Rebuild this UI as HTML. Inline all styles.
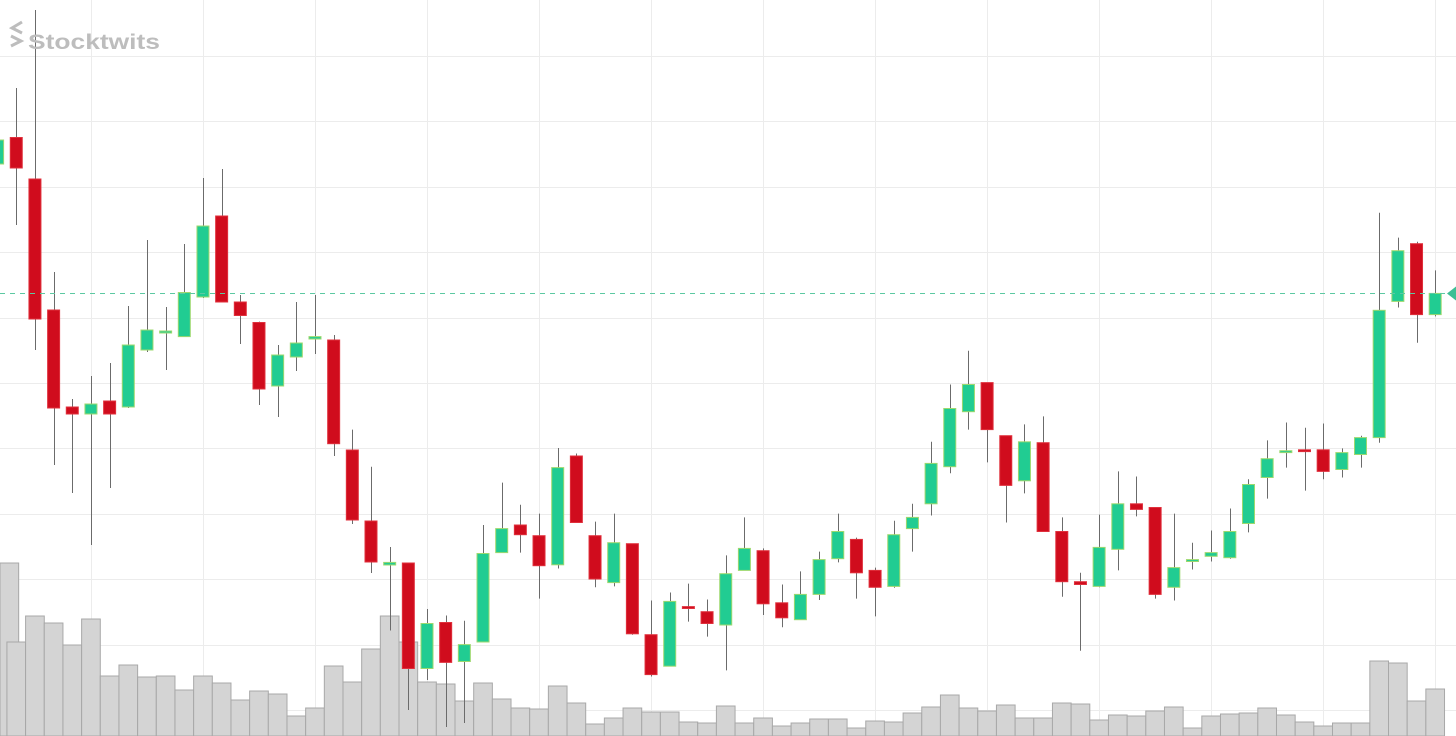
<!DOCTYPE html>
<html><head><meta charset="utf-8"><style>
html,body{margin:0;padding:0;background:#fff;overflow:hidden;width:1456px;height:736px}
svg{display:block;overflow:hidden}
</style></head><body>
<svg id="chart" width="1456" height="736" xmlns="http://www.w3.org/2000/svg">
<g id="grid"></g>
<g id="vol"></g>
<g id="candles"></g>
<g id="last"></g>
<g>
<polyline points="22,22 12,28 22,33" fill="none" stroke="#bdbdbd" stroke-width="3"/>
<polyline points="11,36 21,41 11,46" fill="none" stroke="#bdbdbd" stroke-width="3"/>
<text x="28" y="49" font-family="Liberation Sans, sans-serif" font-weight="bold" font-size="21" textLength="132" lengthAdjust="spacingAndGlyphs" fill="#bdbdbd">Stocktwits</text>
</g>
</svg>
<script>
const opens=[57.2,59.85,55.7,42.6,32.9,32.2,33.5,32.9,38.6,40.3,39.94,43.9,52.0,43.4,41.35,35.0,37.9,39.7,39.6,28.6,21.5,17.1,17.3,6.75,11.35,7.45,9.4,18.34,21.1,20.03,17.12,28.0,20.03,15.34,19.23,10.13,6.98,12.94,12.43,11.1,16.56,18.53,13.32,11.63,14.16,17.73,19.66,16.56,14.96,20.74,23.22,26.93,32.43,35.34,30.03,25.52,29.33,20.45,15.43,14.96,18.67,23.22,22.85,14.87,17.45,17.97,17.83,21.25,25.85,28.34,28.62,28.62,26.65,28.15,29.84,43.46,49.23,42.14];
const highs=[59.8,64.8,72.6,46.4,33.7,36.0,37.3,43.0,49.6,42.9,49.2,55.8,56.7,44.1,41.44,39.1,43.4,44.1,40.1,30.64,26.93,18.9,17.3,12.7,12.05,11.53,21.1,25.34,23.13,22.24,28.8,28.25,21.44,22.24,19.23,13.55,14.35,15.24,13.65,18.06,21.86,18.76,15.15,16.46,18.44,22.24,19.84,16.84,21.53,23.22,29.42,35.15,38.53,35.34,30.03,31.16,31.96,21.86,16.32,22.14,26.46,25.95,22.85,22.24,19.33,20.55,22.75,25.67,29.56,31.35,30.83,31.25,28.76,30.03,52.33,49.84,49.42,46.56];
const lows=[57.0,51.1,38.6,27.1,24.3,19.1,24.8,32.8,38.4,36.6,39.9,43.8,43.4,39.2,33.1,31.9,36.5,38.2,28.0,21.2,16.3,10.55,2.6,5.6,0.9,1.3,9.4,18.34,18.34,13.74,16.75,21.35,14.87,14.96,10.13,5.95,6.98,11.44,9.94,6.56,16.56,12.1,10.88,11.63,13.6,17.36,13.74,11.96,14.82,18.44,22.05,26.28,30.64,27.36,21.35,24.26,20.45,13.93,8.53,14.87,16.56,21.96,13.74,13.55,16.65,17.45,17.73,20.36,23.74,26.84,24.54,25.67,25.85,26.84,29.33,42.85,39.33,41.96];
const closes=[59.6,56.8,41.7,32.8,32.2,33.2,32.2,39.1,40.6,40.5,44.35,51.0,43.4,42.05,34.7,38.1,39.3,39.94,29.23,21.6,17.4,17.36,6.75,11.25,7.36,9.14,18.25,20.74,20.13,17.03,26.84,21.35,15.7,19.33,10.22,6.14,13.46,12.75,11.25,16.23,18.76,13.22,11.82,14.16,17.64,20.45,16.32,14.87,20.13,21.86,27.26,32.75,35.15,30.64,25.06,29.42,20.45,15.43,15.15,18.86,23.22,22.66,14.16,16.84,17.64,18.34,20.45,25.15,27.73,28.53,28.44,26.46,28.34,29.84,42.57,48.53,42.14,44.26];
const volumes=[173,94,120,113,91,117,60,71,59,60,46,60,53,36,45,42,20,28,70,54,87,120,94,54,52,35,53,37,28,27,50,33,12,18,28,24,24,14,13,30,13,18,10,13,17,17,8,15,14,23,29,41,28,25,31,18,18,33,32,16,21,20,25,29,8,20,22,23,28,21,14,10,13,13,75,73,35,47];
const lastPrice=44.26;

const NS='http://www.w3.org/2000/svg';
const W=1456,H=736;
const x0=-2.4, step=18.67;
function xScale(i){return x0+step*i;}
function yScale(p){return 736-p*10;}
function vScale(v){return 736-v;}
function mk(tag,attrs,parent){const e=document.createElementNS(NS,tag);for(const k in attrs)e.setAttribute(k,attrs[k]);parent.appendChild(e);return e;}

const grid=document.getElementById('grid');
for(let k=-1;k<12;k++){
  const y=Math.round(yScale(68.0-k*6.54))+0.5;
  if(y<0||y>H)continue;
  const l=mk('line',{x1:0,x2:W,y1:y,y2:y,stroke:'#ececec','stroke-width':1},grid);
  
  
}
for(let i=5;i<opens.length+1;i+=6){
  const x=Math.round(xScale(i))+0.5;
  const l=mk('line',{x1:x,x2:x,y1:0,y2:H,stroke:'#ececec','stroke-width':1},grid);
  
  
}

const vol=document.getElementById('vol');
volumes.forEach((v,i)=>{
  const y=vScale(v);
  const r=mk('rect',{x:Math.max(xScale(i)-step/2,0),y:y,width:step,height:H-y,fill:'#d4d4d4',stroke:'#a8a8a8','stroke-width':1},vol);
  
  
});

const cg=document.getElementById('candles');
opens.forEach((o,i)=>{
  const c=closes[i],x=xScale(i),up=c>=o;
  const g=mk('g',{},cg);
  
  
  const w=mk('line',{x1:Math.round(x)+0.5,x2:Math.round(x)+0.5,y1:yScale(highs[i]),y2:yScale(lows[i]),stroke:'#6b6b6b','stroke-width':1},g);
  
  
  const top=yScale(Math.max(o,c)),bot=yScale(Math.min(o,c));
  const b=mk('rect',{x:x-6,y:top,width:12,height:Math.max(bot-top,1.5),fill:up?'#21cc92':'#d00c1d',stroke:up?'#9dd86e':'#e0303c','stroke-width':1},g);
  
  
});

const lg=document.getElementById('last');
const ly=Math.round(yScale(lastPrice))+0.5;
const dl=mk('line',{x1:0,x2:1446,y1:ly,y2:ly,stroke:'#5cc9a2','stroke-width':1,'stroke-dasharray':'5,5'},lg);


const tri=mk('polygon',{points:`1447,${ly} 1456,${ly-7} 1456,${ly+7}`,fill:'#3dbf95'},lg);


</script>
</body></html>
